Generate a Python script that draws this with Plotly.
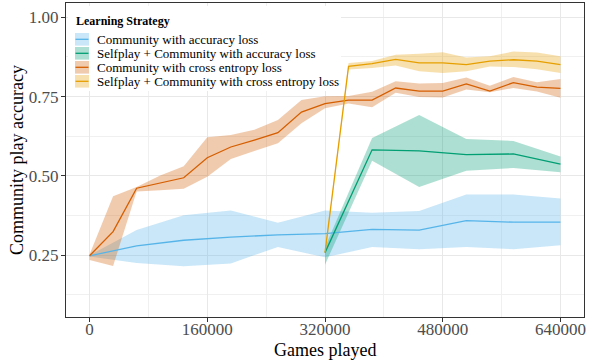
import plotly.graph_objects as go

# ---- data -----------------------------------------------------------------
games_fine = [i * 32000 for i in range(21)]            # 0 .. 640000, every 32k
games_coarse = [i * 64000 for i in range(11)]          # 0 .. 640000, every 64k
games_sp_fine = [320000 + i * 32000 for i in range(11)]
games_sp_coarse = [320000 + i * 64000 for i in range(6)]

comm_acc_mean = [0.248, 0.279, 0.297, 0.307, 0.314, 0.318, 0.331, 0.329, 0.359, 0.354, 0.354]
comm_acc_hi = [0.250, 0.329, 0.376, 0.391, 0.352, 0.391, 0.384, 0.389, 0.441, 0.441, 0.429]
comm_acc_lo = [0.246, 0.225, 0.215, 0.224, 0.276, 0.243, 0.276, 0.269, 0.276, 0.269, 0.281]

sp_acc_mean = [0.258, 0.582, 0.579, 0.567, 0.569, 0.537]
sp_acc_hi = [0.275, 0.619, 0.692, 0.616, 0.610, 0.561]
sp_acc_lo = [0.220, 0.548, 0.465, 0.516, 0.525, 0.511]

comm_ce_mean = [0.248, 0.324, 0.461, 0.478, 0.494, 0.557, 0.591, 0.613, 0.636, 0.701, 0.728,
                0.739, 0.739, 0.777, 0.767, 0.767, 0.790, 0.767, 0.794, 0.780, 0.776]
comm_ce_hi = [0.252, 0.436, 0.465, 0.501, 0.530, 0.622, 0.629, 0.645, 0.676, 0.739, 0.751,
              0.752, 0.765, 0.798, 0.791, 0.793, 0.810, 0.784, 0.812, 0.795, 0.805]
comm_ce_lo = [0.235, 0.216, 0.451, 0.455, 0.459, 0.497, 0.553, 0.578, 0.603, 0.666, 0.713,
              0.728, 0.716, 0.762, 0.749, 0.747, 0.772, 0.764, 0.777, 0.766, 0.746]

sp_ce_mean = [0.258, 0.845, 0.854, 0.867, 0.856, 0.856, 0.851, 0.862, 0.866, 0.862, 0.851]
sp_ce_hi = [0.262, 0.856, 0.862, 0.882, 0.885, 0.890, 0.873, 0.877, 0.892, 0.889, 0.877]
sp_ce_lo = [0.254, 0.835, 0.840, 0.848, 0.830, 0.824, 0.830, 0.845, 0.843, 0.836, 0.824]

strategies = [
    "Community with accuracy loss",
    "Selfplay + Community with accuracy loss",
    "Community with cross entropy loss",
    "Selfplay + Community with cross entropy loss",
]
x_ticks = [0, 160000, 320000, 480000, 640000]
y_ticks = [0.25, 0.50, 0.75, 1.00]

# ---- styling --------------------------------------------------------------
colors = ["#56B4E9", "#009E73", "#D55E00", "#E69F00"]
FONT = "Liberation Serif, Times New Roman, serif"
W, H = 589, 360
ML, MR, MT, MB = 66, 5, 3, 43
PW, PH = W - ML - MR, H - MT - MB


def rgba(hex_color, a):
    h = hex_color.lstrip("#")
    r, g, b = int(h[0:2], 16), int(h[2:4], 16), int(h[4:6], 16)
    return f"rgba({r},{g},{b},{a})"


def px_x(x):
    return (x - ML) / PW


def px_y(y):
    return 1 - (y - MT) / PH


series = [
    (games_coarse, comm_acc_mean, comm_acc_lo, comm_acc_hi),
    (games_sp_coarse, sp_acc_mean, sp_acc_lo, sp_acc_hi),
    (games_fine, comm_ce_mean, comm_ce_lo, comm_ce_hi),
    (games_sp_fine, sp_ce_mean, sp_ce_lo, sp_ce_hi),
]

fig = go.Figure()

# uncertainty ribbons first
for (xs, mean, lo, hi), c, name in zip(series, colors, strategies):
    fig.add_trace(go.Scatter(
        x=list(xs) + list(xs)[::-1],
        y=list(hi) + list(lo)[::-1],
        fill="toself", fillcolor=rgba(c, 0.32),
        line=dict(width=0), mode="lines",
        hoverinfo="skip", showlegend=False, name=name,
    ))

# mean lines on top
for (xs, mean, lo, hi), c, name in zip(series, colors, strategies):
    fig.add_trace(go.Scatter(
        x=xs, y=mean, mode="lines", name=name,
        line=dict(color=c, width=1.3), showlegend=False,
    ))

grid_major = "#E8E8E8"
grid_minor = "#F0F0F0"

fig.update_xaxes(
    range=[-32000, 672000],
    tickmode="array", tickvals=x_ticks, ticktext=[str(v) for v in x_ticks],
    showgrid=True, gridcolor=grid_major, gridwidth=1.2,
    minor=dict(dtick=80000, tick0=0, showgrid=True, gridcolor=grid_minor, gridwidth=0.8),
    showline=True, mirror=True, linecolor="#333333", linewidth=1,
    ticks="outside", ticklen=4, tickcolor="#333333", tickwidth=1,
    tickfont=dict(family=FONT, size=17, color="#4D4D4D"),
    ticklabelstandoff=-7,
    zeroline=False,
)
fig.update_yaxes(
    range=[0.055, 1.045],
    tickmode="array", tickvals=y_ticks, ticktext=[f"{v:.2f}" for v in y_ticks],
    showgrid=True, gridcolor=grid_major, gridwidth=1.2,
    minor=dict(dtick=0.125, tick0=0, showgrid=True, gridcolor=grid_minor, gridwidth=0.8),
    showline=True, mirror=True, linecolor="#333333", linewidth=1,
    ticks="outside", ticklen=4, tickcolor="#333333", tickwidth=1,
    tickfont=dict(family=FONT, size=17, color="#4D4D4D"),
    ticklabelstandoff=-1,
    zeroline=False,
)

shapes = []
annotations = []

# legend panel
shapes.append(dict(type="rect", xref="paper", yref="paper",
                   x0=px_x(68), x1=px_x(341), y0=px_y(91), y1=px_y(6),
                   fillcolor="white", line=dict(width=0), layer="above"))
annotations.append(dict(text="<b>Learning Strategy</b>", xref="paper", yref="paper",
                        x=px_x(74), y=px_y(20.5), xanchor="left", yanchor="middle",
                        showarrow=False, font=dict(family=FONT, size=12, color="black")))
for k, (name, c) in enumerate(zip(strategies, colors)):
    yc = 39.3 + 14 * k
    shapes.append(dict(type="rect", xref="paper", yref="paper",
                       x0=px_x(75), x1=px_x(89), y0=px_y(yc + 6.3), y1=px_y(yc - 6.3),
                       fillcolor=rgba(c, 0.32), line=dict(width=0), layer="above"))
    shapes.append(dict(type="line", xref="paper", yref="paper",
                       x0=px_x(75.5), x1=px_x(88.5), y0=px_y(yc), y1=px_y(yc),
                       line=dict(color=c, width=1.3), layer="above"))
    annotations.append(dict(text=name, xref="paper", yref="paper",
                            x=px_x(95), y=px_y(yc), xanchor="left", yanchor="middle",
                            showarrow=False, font=dict(family=FONT, size=13, color="black")))

# axis titles
annotations.append(dict(text="Games played", xref="paper", yref="paper",
                        x=px_x(325), y=px_y(349.5), xanchor="center", yanchor="middle",
                        showarrow=False, font=dict(family=FONT, size=18, color="black")))
annotations.append(dict(text="Community play accuracy", xref="paper", yref="paper",
                        x=px_x(17), y=px_y(160), xanchor="center", yanchor="middle",
                        textangle=-90, showarrow=False,
                        font=dict(family=FONT, size=18, color="black")))

fig.update_layout(
    width=W, height=H,
    margin=dict(l=ML, r=MR, t=MT, b=MB),
    paper_bgcolor="white", plot_bgcolor="white",
    showlegend=False,
    shapes=shapes, annotations=annotations,
    font=dict(family=FONT),
)

fig.write_html("out.html")
